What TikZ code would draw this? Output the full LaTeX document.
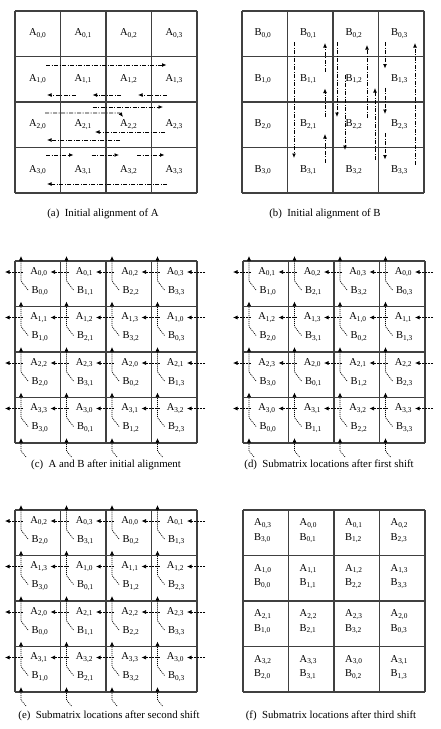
\documentclass[tikz,border=0pt]{standalone}
\usepackage{fontspec}
\setmainfont{Liberation Serif}
\usetikzlibrary{calc, arrows.meta}
\definecolor{gridgray}{HTML}{404040}
\tikzset{
  gridline/.style={draw=gridgray, line width=1.3pt},
  blocklabel/.style={font=\fontsize{10.5}{12}\selectfont, inner sep=0pt},
  shiftarrow/.style={line width=0.9pt, dash pattern=on 4pt off 1.5pt on 1pt off 1.5pt,
                     -{Latex[length=4.5pt,width=4pt]}},
  aarrow/.style={line width=0.7pt, dash pattern=on 2pt off 1pt,
                 -{Latex[length=4.5pt,width=4pt]}},
  barrow/.style={line width=0.7pt, dash pattern=on 1pt off 1pt,
                 -{Latex[length=4.5pt,width=4pt]}},
  caption/.style={font=\fontsize{10.8}{12}\selectfont}
}
\newcommand{\blk}[2]{#1\textsubscript{#2}}

\begin{document}
\begin{tikzpicture}[x=1pt, y=-1pt]
  \useasboundingbox (0,0) rectangle (440,729);

  % corners of the six grids
  \foreach \pn/\ox/\oy in {a/15/11, b/242/11, c/15/261, d/243/261, e/15/510, f/243/510}{
    \foreach \i in {0,...,4}
      \foreach \j in {0,...,4}
        \coordinate (\pn-\i-\j) at ({\ox+45.5*\j}, {\oy+45.5*\i});
    \foreach \k in {0,...,4}{
      \draw[gridline] (\pn-\k-0) -- (\pn-\k-4);
      \draw[gridline] (\pn-0-\k) -- (\pn-4-\k);
    }
  }

  % (a) and (b): initial blocks
  \foreach \i in {0,...,3}
    \foreach \j in {0,...,3}{
      \node[blocklabel] (A-\i-\j) at ($(a-\i-\j)+(22.75,22.75)$) {\blk{A}{\i,\j}};
      \node[blocklabel] (B-\i-\j) at ($(b-\i-\j)+(21,22.75)$) {\blk{B}{\i,\j}};
    }

  % (c)--(f): blocks after k shifts
  \foreach \pn/\k in {c/0, d/1, e/2}
    \foreach \i in {0,...,3}
      \foreach \j in {0,...,3}{
        \pgfmathtruncatemacro\m{mod(\i+\j+\k,4)}
        \node[blocklabel] (\pn A-\i-\j) at ($(\pn-\i-\j)+(24,11)$) {\blk{A}{\i,\m}};
        \node[blocklabel] (\pn B-\i-\j) at ($(\pn-\i-\j)+(25,30)$) {\blk{B}{\m,\j}};
      }
  \foreach \i in {0,...,3}
    \foreach \j in {0,...,3}{
      \pgfmathtruncatemacro\m{mod(\i+\j+3,4)}
      \node[blocklabel, anchor=west] (fA-\i-\j) at ($(f-\i-\j)+(11,13.5)$) {\blk{A}{\i,\m}};
      \node[blocklabel, anchor=west] (fB-\i-\j) at ($(f-\i-\j)+(11,28)$) {\blk{B}{\m,\j}};
    }

  % (a) row shifts of A
  \draw[shiftarrow] ($(a-1-0)+(31,8.5)$) -- ($(a-1-3)+(15,8.5)$);
  \foreach \j/\jj in {1/0, 2/1, 3/2}
    \draw[shiftarrow] ($(a-1-\j)+(15,38.5)$) -- ($(a-1-\jj)+(32,38.5)$);
  \draw[shiftarrow] ($(a-2-1)+(32,5)$) -- ($(a-2-3)+(11.5,5)$);
  \draw[shiftarrow] ($(a-2-0)+(30,11)$) -- ($(a-2-2)+(14,11)$) -- ($(a-2-2)+(17,15)$);
  \draw[shiftarrow] ($(a-2-3)+(13.5,30)$) -- ($(a-2-1)+(34.5,30)$);
  \draw[shiftarrow] ($(a-2-2)+(14,38)$) -- ($(a-2-0)+(32,38)$);
  \foreach \j/\jj in {0/1, 1/2, 2/3}
    \draw[shiftarrow] ($(a-3-\j)+(31,7.5)$) -- ($(a-3-\jj)+(13,7.5)$);
  \draw[shiftarrow] ($(a-3-3)+(15.5,36.5)$) -- ($(a-3-0)+(32,36.5)$);

  % (b) column shifts of B
  \draw[shiftarrow] ($(b-0-1)+(6.5,31)$) -- ($(b-3-1)+(6.5,10.5)$);
  \foreach \i/\ii in {1/0, 2/1, 3/2}
    \draw[shiftarrow] ($(b-\i-1)+(37.5,15)$) -- ($(b-\ii-1)+(37.5,32)$);
  \draw[shiftarrow] ($(b-0-2)+(4,31)$) -- ($(b-2-2)+(4,15)$);
  \draw[shiftarrow] ($(b-1-2)+(12,18.5)$) -- ($(b-3-2)+(12,2.5)$);
  \draw[shiftarrow] ($(b-2-2)+(34,16)$) -- ($(b-0-2)+(34,34)$);
  \draw[shiftarrow] ($(b-3-2)+(42,12.5)$) -- ($(b-1-2)+(42,31.5)$);
  \foreach \i/\ii in {0/1, 1/2, 2/3}
    \draw[shiftarrow] ($(b-\i-3)+(6.5,31)$) -- ($(b-\ii-3)+(6.5,12)$);
  \draw[shiftarrow] ($(b-3-3)+(36.5,17)$) -- ($(b-0-3)+(36.5,32)$);

  % (c)--(e) one-step shifts: A to the left, B upwards
  \foreach \pn in {c,d,e}{
    \foreach \i in {0,...,3}
      \foreach \j in {0,...,4}
        \draw[aarrow] ($(\pn-\i-\j)+(8,11)$) -- ($(\pn-\i-\j)+(-10,11)$);
    \foreach \j in {0,...,3}{
      \foreach \i in {0,...,3}
        \draw[barrow] ($(\pn-\i-\j)+(13,29)$) -- ($(\pn-\i-\j)+(6,20)$) -- ($(\pn-\i-\j)+(6,-5)$);
      \draw[barrow] ($(\pn-4-\j)+(11,14)$) -- ($(\pn-4-\j)+(6,8)$) -- ($(\pn-4-\j)+(6,-5)$);
    }
  }

  % captions
  \node[caption] (cap-a) at (103,214) {(a)\enspace Initial alignment of A};
  \node[caption] (cap-b) at (325,214) {(b)\enspace Initial alignment of B};
  \node[caption] (cap-c) at (106,465) {(c)\enspace A and B after initial alignment};
  \node[caption] (cap-d) at (329,465) {(d)\enspace Submatrix locations after first shift};
  \node[caption] (cap-e) at (109,716) {(e)\enspace Submatrix locations after second shift};
  \node[caption] (cap-f) at (331,716) {(f)\enspace Submatrix locations after third shift};
\end{tikzpicture}
\end{document}
